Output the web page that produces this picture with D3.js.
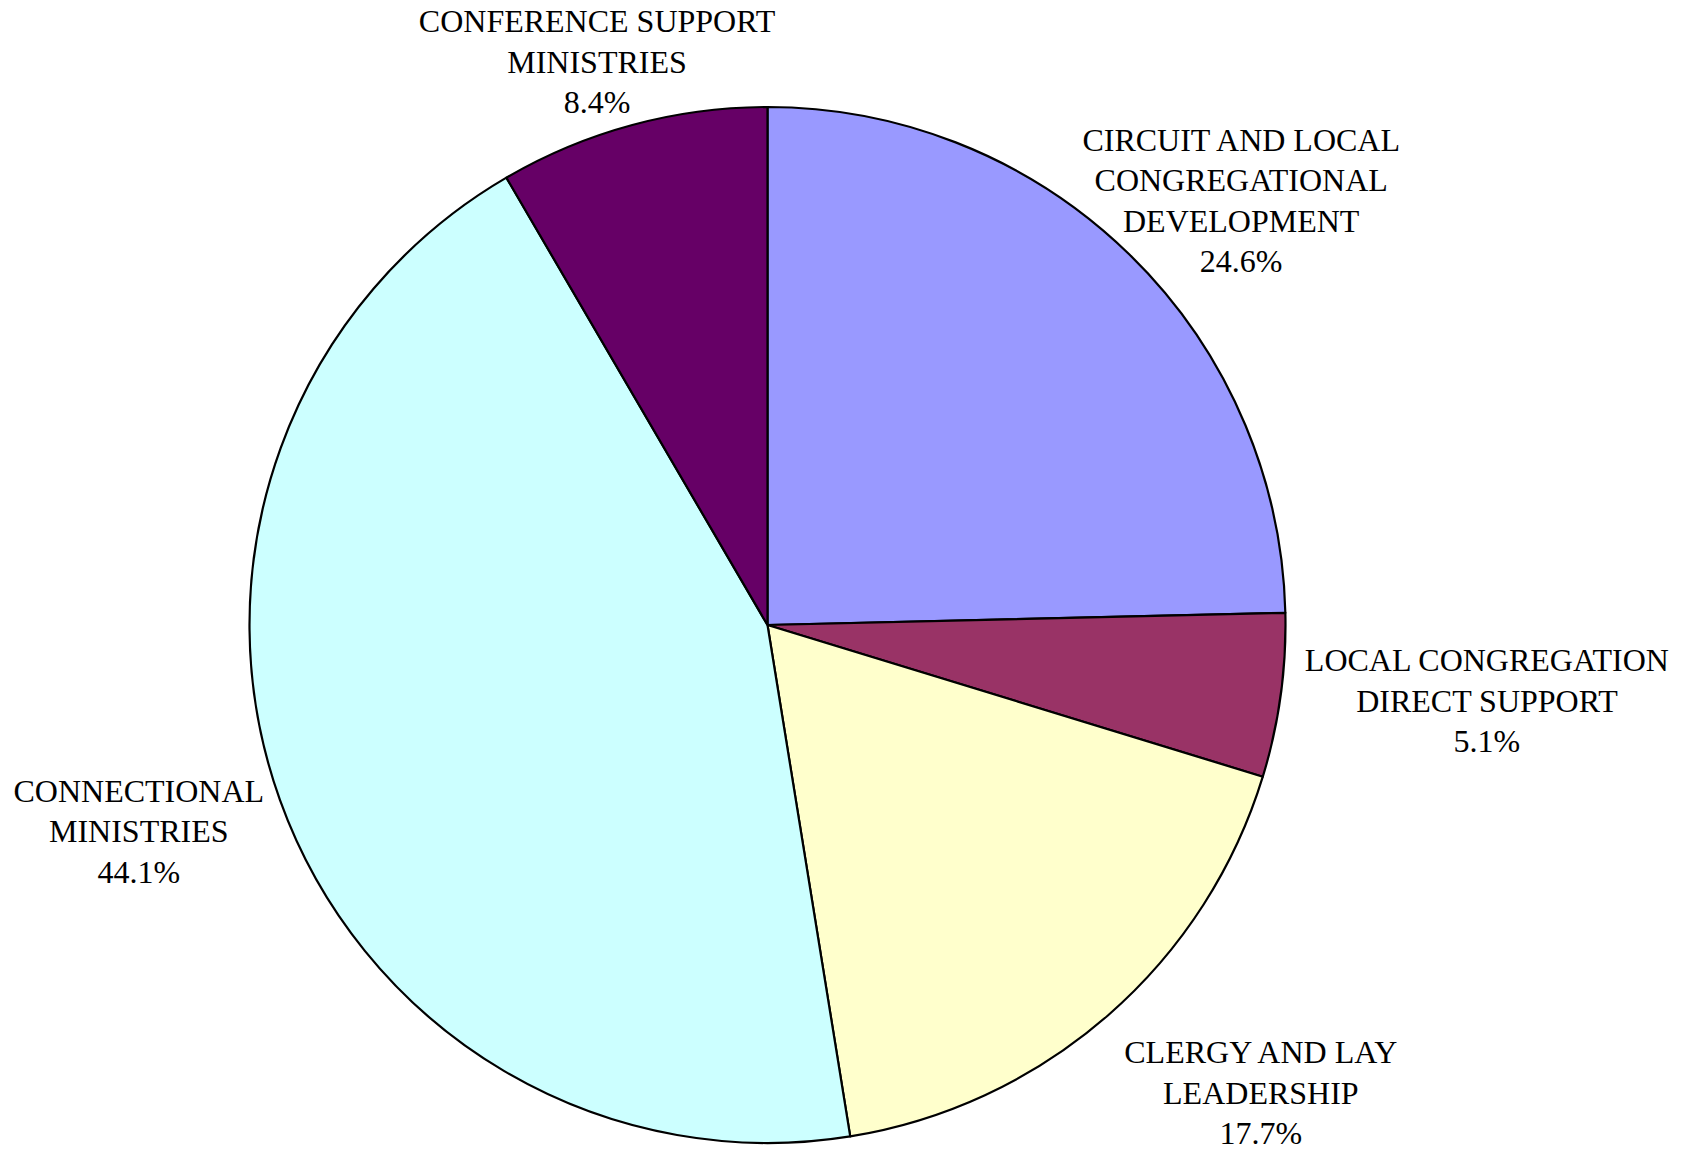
<!DOCTYPE html>
<html>
<head>
<meta charset="utf-8">
<script src="https://cdn.jsdelivr.net/npm/d3@7"></script>
<style>
  body { margin: 0; background: #fff; }
  svg text { font-family: "Liberation Serif", "Times New Roman", serif; font-size: 32px; fill: #000; }
</style>
</head>
<body>
<div id="chart"></div>
<script>
// slice names (one entry per label line), values in percent, fill colours
var categories = [
	["CIRCUIT AND LOCAL", "CONGREGATIONAL", "DEVELOPMENT"],
	["LOCAL CONGREGATION", "DIRECT SUPPORT"],
	["CLERGY AND LAY", "LEADERSHIP"],
	["CONNECTIONAL", "MINISTRIES"],
	["CONFERENCE SUPPORT", "MINISTRIES"]
];
var values = [24.6, 5.1, 17.7, 44.1, 8.4];
var colors = ["#9999ff", "#993366", "#ffffcc", "#ccffff", "#660066"];

// hand nudges for the labels (they were dragged a bit in the original)
var labelNudge = [[-9, 14], [12, -5], [54, 21], [-10, 6], [15, 9]];

var width = 1695, height = 1152;
var cx = 767.5, cy = 625, radius = 518;
var lineHeight = 40.5;

var svg = d3.select("#chart")
	.append("svg")
	.attr("width", width)
	.attr("height", height);

var pie = d3.pie().sort(null).value(function(d) { return d; });
var arcs = pie(values);
var arc = d3.arc().innerRadius(0).outerRadius(radius);

var g = svg.append("g").attr("transform", "translate(" + cx + "," + cy + ")");

g.selectAll("path")
	.data(arcs)
	.enter().append("path")
	.attr("d", arc)
	.style("fill", function(d, i) { return colors[i]; })
	.style("stroke", "#000")
	.style("stroke-width", 2.2)
	.style("stroke-linejoin", "round");

// labels: name lines + percent, placed outside along the slice's mid angle
var labels = g.selectAll(".label")
	.data(arcs)
	.enter().append("g")
	.attr("class", "label");

labels.each(function(d, i) {
	var lab = d3.select(this);
	var lines = categories[i].concat([values[i].toFixed(1) + "%"]);
	var t = lab.append("text").attr("text-anchor", "middle");
	lines.forEach(function(s, k) {
		t.append("tspan").attr("x", 0).attr("y", k * lineHeight).text(s);
	});
	var bb = t.node().getBBox();
	var w = bb.width, h = lines.length * lineHeight;
	var a = (d.startAngle + d.endAngle) / 2;
	var sx = Math.sin(a), sy = -Math.cos(a);
	var r = radius + 14;
	// push the block outward so its inner edge sits near the rim
	var mx = r * sx + sx * w / 2 + labelNudge[i][0];
	var my = r * sy + sy * h / 2 + labelNudge[i][1];
	var top = my - h / 2;
	lab.attr("transform", "translate(" + mx + "," + (top + lineHeight / 2 + 11) + ")");
});
</script>
</body>
</html>
